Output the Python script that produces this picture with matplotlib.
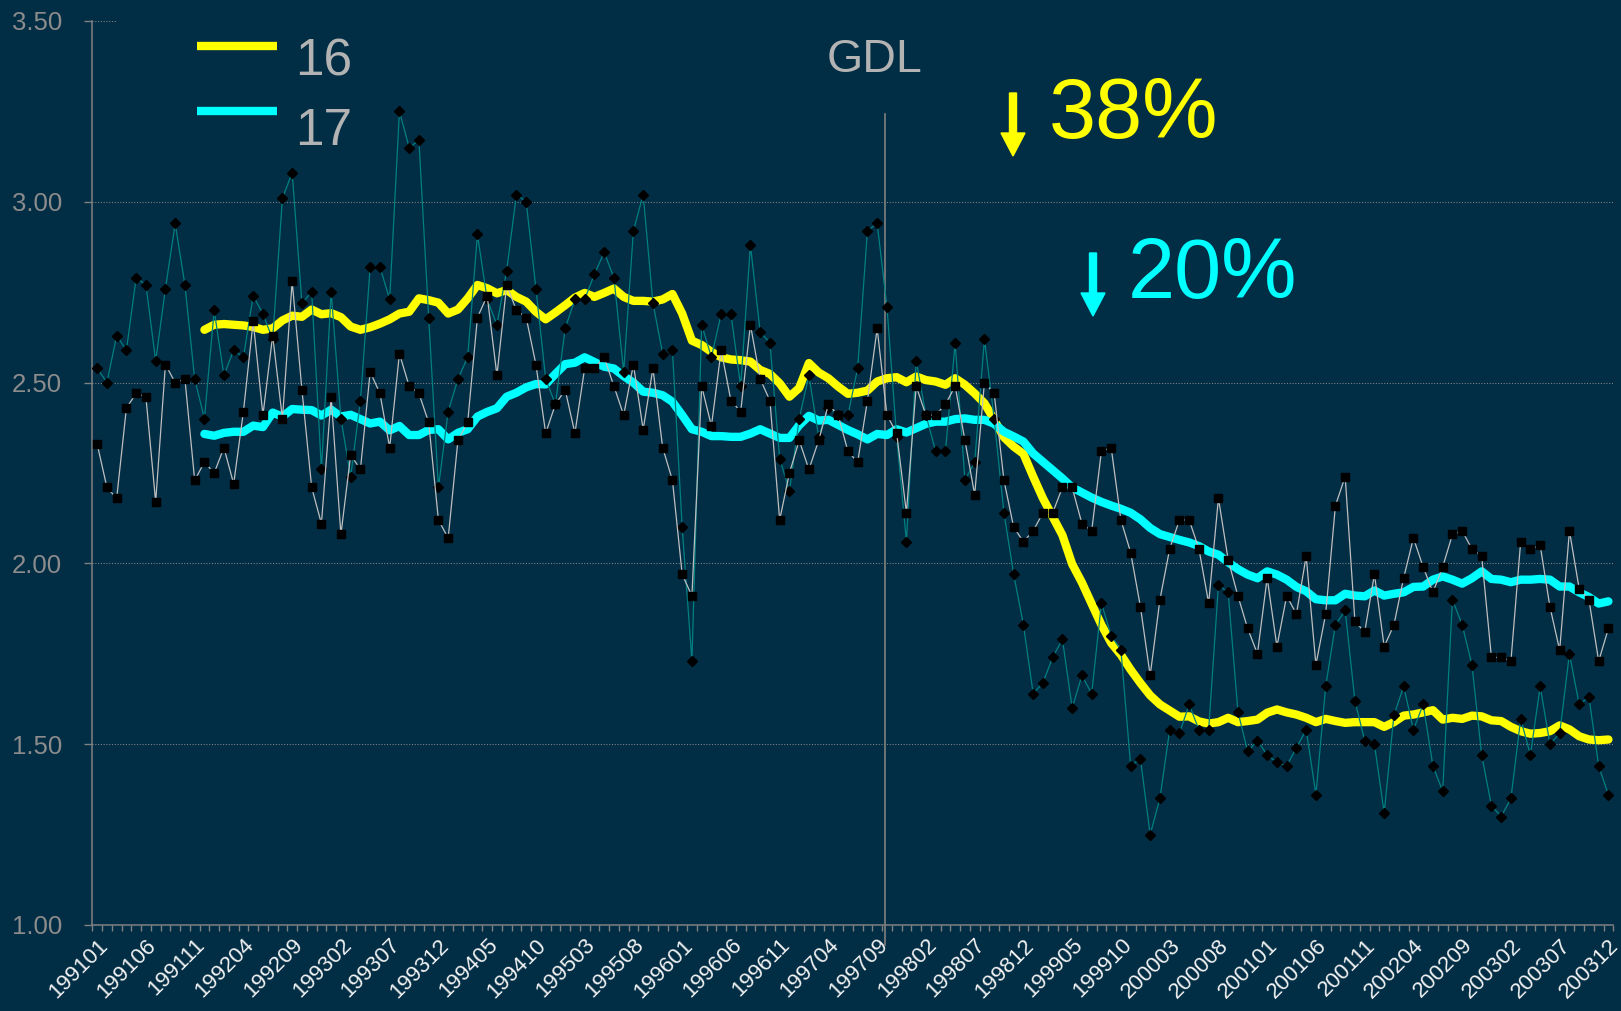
import matplotlib.pyplot as plt
from matplotlib.patches import FancyArrow, Rectangle
from matplotlib.ticker import FormatStrFormatter

plt.rcParams['font.family'] = ['Liberation Sans', 'DejaVu Sans']

# monthly categories 199101 .. 200312
months = [f"{y}{m:02d}" for y in range(1991, 2004) for m in range(1, 13)]

# raw monthly values (thin lines)
raw16 = [2.54, 2.50, 2.63, 2.59, 2.79, 2.77, 2.56, 2.76, 2.94, 2.77,
         2.51, 2.40, 2.70, 2.52, 2.59, 2.57, 2.74, 2.69, 2.62, 3.01,
         3.08, 2.72, 2.75, 2.26, 2.75, 2.40, 2.24, 2.45, 2.82, 2.82,
         2.73, 3.25, 3.15, 3.17, 2.68, 2.21, 2.42, 2.51, 2.57, 2.91,
         2.73, 2.66, 2.81, 3.02, 3.00, 2.76, 2.51, 2.44, 2.65, 2.73,
         2.73, 2.80, 2.86, 2.79, 2.53, 2.92, 3.02, 2.72, 2.58, 2.59,
         2.10, 1.73, 2.66, 2.57, 2.69, 2.69, 2.49, 2.88, 2.64, 2.61,
         2.29, 2.20, 2.40, 2.52, 2.35, 2.43, 2.41, 2.41, 2.54, 2.92,
         2.94, 2.71, 2.35, 2.06, 2.56, 2.41, 2.31, 2.31, 2.61, 2.23,
         2.28, 2.62, 2.40, 2.14, 1.97, 1.83, 1.64, 1.67, 1.74, 1.79,
         1.60, 1.69, 1.64, 1.89, 1.80, 1.76, 1.44, 1.46, 1.25, 1.35,
         1.54, 1.53, 1.61, 1.54, 1.54, 1.94, 1.92, 1.59, 1.48, 1.51,
         1.47, 1.45, 1.44, 1.49, 1.54, 1.36, 1.66, 1.83, 1.87, 1.62,
         1.51, 1.50, 1.31, 1.58, 1.66, 1.54, 1.61, 1.44, 1.37, 1.90,
         1.83, 1.72, 1.47, 1.33, 1.30, 1.35, 1.57, 1.47, 1.66, 1.50,
         1.53, 1.75, 1.61, 1.63, 1.44, 1.36]

raw17 = [2.33, 2.21, 2.18, 2.43, 2.47, 2.46, 2.17, 2.55, 2.50, 2.51,
         2.23, 2.28, 2.25, 2.32, 2.22, 2.42, 2.67, 2.41, 2.63, 2.40,
         2.78, 2.48, 2.21, 2.11, 2.46, 2.08, 2.30, 2.26, 2.53, 2.47,
         2.32, 2.58, 2.49, 2.47, 2.39, 2.12, 2.07, 2.34, 2.39, 2.68,
         2.74, 2.52, 2.77, 2.70, 2.68, 2.55, 2.36, 2.44, 2.48, 2.36,
         2.54, 2.54, 2.57, 2.49, 2.41, 2.55, 2.37, 2.54, 2.32, 2.23,
         1.97, 1.91, 2.49, 2.38, 2.59, 2.45, 2.42, 2.66, 2.51, 2.45,
         2.12, 2.25, 2.34, 2.26, 2.34, 2.44, 2.41, 2.31, 2.28, 2.45,
         2.65, 2.41, 2.36, 2.14, 2.49, 2.41, 2.41, 2.44, 2.49, 2.34,
         2.19, 2.50, 2.47, 2.23, 2.10, 2.06, 2.09, 2.14, 2.14, 2.21,
         2.21, 2.11, 2.09, 2.31, 2.32, 2.12, 2.03, 1.88, 1.69, 1.90,
         2.04, 2.12, 2.12, 2.04, 1.89, 2.18, 2.01, 1.91, 1.82, 1.75,
         1.96, 1.77, 1.91, 1.86, 2.02, 1.72, 1.86, 2.16, 2.24, 1.84,
         1.81, 1.97, 1.77, 1.83, 1.96, 2.07, 1.99, 1.92, 1.99, 2.08,
         2.09, 2.04, 2.02, 1.74, 1.74, 1.73, 2.06, 2.04, 2.05, 1.88,
         1.76, 2.09, 1.93, 1.90, 1.73, 1.82]

# 12-month averages (thick lines), from 199112 on
ma_start = 11
ma16 = [2.646, 2.660, 2.662, 2.660, 2.658, 2.654, 2.646, 2.650, 2.672, 2.685,
        2.682, 2.702, 2.689, 2.692, 2.681, 2.655, 2.646, 2.653, 2.663, 2.675,
        2.691, 2.696, 2.733, 2.728, 2.721, 2.691, 2.702, 2.733, 2.770, 2.761,
        2.747, 2.756, 2.737, 2.724, 2.696, 2.675, 2.694, 2.714, 2.735, 2.748,
        2.737, 2.748, 2.760, 2.737, 2.726, 2.726, 2.724, 2.730, 2.745, 2.691,
        2.616, 2.604, 2.585, 2.570, 2.564, 2.562, 2.558, 2.535, 2.524, 2.498,
        2.461, 2.485, 2.554, 2.528, 2.512, 2.489, 2.469, 2.472, 2.478, 2.503,
        2.512, 2.515, 2.501, 2.517, 2.507, 2.503, 2.494, 2.512, 2.494, 2.470,
        2.443, 2.397, 2.349, 2.323, 2.303, 2.240, 2.180, 2.129, 2.078, 1.998,
        1.947, 1.888, 1.830, 1.780, 1.747, 1.706, 1.669, 1.635, 1.610, 1.593,
        1.576, 1.577, 1.563, 1.557, 1.561, 1.573, 1.561, 1.564, 1.568, 1.587,
        1.596, 1.588, 1.582, 1.573, 1.561, 1.570, 1.564, 1.559, 1.561, 1.561,
        1.561, 1.548, 1.561, 1.579, 1.582, 1.588, 1.594, 1.568, 1.573, 1.570,
        1.579, 1.577, 1.566, 1.564, 1.548, 1.536, 1.529, 1.531, 1.536, 1.552,
        1.541, 1.522, 1.513, 1.511, 1.513]

ma17 = [2.358, 2.353, 2.361, 2.364, 2.364, 2.381, 2.377, 2.417, 2.406, 2.427,
        2.425, 2.424, 2.409, 2.425, 2.406, 2.411, 2.399, 2.387, 2.392, 2.368,
        2.380, 2.355, 2.355, 2.369, 2.371, 2.343, 2.361, 2.371, 2.406, 2.419,
        2.429, 2.461, 2.472, 2.487, 2.496, 2.495, 2.524, 2.551, 2.555, 2.570,
        2.557, 2.544, 2.539, 2.518, 2.500, 2.475, 2.472, 2.465, 2.447, 2.410,
        2.371, 2.364, 2.352, 2.352, 2.350, 2.350, 2.359, 2.371, 2.359, 2.347,
        2.347, 2.382, 2.408, 2.395, 2.397, 2.383, 2.369, 2.357, 2.343, 2.358,
        2.355, 2.371, 2.362, 2.374, 2.386, 2.392, 2.392, 2.399, 2.401, 2.397,
        2.397, 2.386, 2.364, 2.351, 2.337, 2.304, 2.281, 2.258, 2.235, 2.210,
        2.196, 2.182, 2.170, 2.160, 2.151, 2.140, 2.122, 2.098, 2.081, 2.073,
        2.065, 2.058, 2.048, 2.033, 2.024, 2.003, 1.984, 1.969, 1.959, 1.978,
        1.969, 1.955, 1.935, 1.923, 1.901, 1.898, 1.898, 1.916, 1.911, 1.909,
        1.925, 1.911, 1.916, 1.920, 1.935, 1.936, 1.955, 1.964, 1.955, 1.944,
        1.959, 1.978, 1.957, 1.955, 1.948, 1.955, 1.955, 1.957, 1.955, 1.936,
        1.936, 1.920, 1.907, 1.889, 1.895]

gdl_pos = 80.8  # between 199709 and 199710

bg = '#012d45'
grey = '#808080'

fig = plt.figure(figsize=(16.21, 10.11), dpi=100, facecolor=bg)
ax = fig.add_axes([92.3 / 1621, 86 / 1011, 1521 / 1621, 904 / 1011])
ax.set_facecolor(bg)

x = list(range(len(months)))
xm = x[ma_start:]

l16, = ax.plot(xm, ma16, color='#ffff00', lw=6, solid_capstyle='round',
               solid_joinstyle='round', zorder=3)
l17, = ax.plot(xm, ma17, color='#00ffff', lw=6, solid_capstyle='round',
               solid_joinstyle='round', zorder=3)
ax.plot(x, raw16, color='#008080', lw=0.9, marker='D', ms=5.2,
        mfc='black', mec='black', zorder=4)
ax.plot(x, raw17, color='#bfbfbf', lw=0.9, marker='s', ms=5.5,
        mfc='black', mec='black', zorder=5)

ax.axvline(gdl_pos, ymin=-0.022, ymax=0.897, color=grey, lw=1.2,
           clip_on=False, zorder=2)

ax.set_xlim(-0.5, len(months) - 0.5)
ax.set_ylim(1.0, 3.5)

ax.set_xticks(x[::5])
ax.set_xticklabels(months[::5], rotation=45, ha='right', va='top',
                   rotation_mode='anchor', fontsize=16, color='#f2f2f2')
ax.set_xticks([i - 0.5 for i in range(len(months) + 1)], minor=True)
ax.tick_params(axis='x', which='major', length=0, pad=7)
ax.tick_params(axis='x', which='minor', length=4.3, width=1, color=grey,
               direction='out')

ax.set_yticks([1.0, 1.5, 2.0, 2.5, 3.0, 3.5])
ax.yaxis.set_major_formatter(FormatStrFormatter('%.2f'))
ax.tick_params(axis='y', length=5.8, width=1, color=grey, labelsize=18.5,
               labelcolor='#8c8c8c', pad=16)

for s in ['top', 'right']:
    ax.spines[s].set_visible(False)
for s in ['left', 'bottom']:
    ax.spines[s].set_color(grey)
    ax.spines[s].set_linewidth(1.1)

ax.set_axisbelow(True)
ax.yaxis.grid(True, color=grey, linestyle=(0, (1, 1.5)), lw=0.8)
# top gridline hidden behind the legend area
ax.add_patch(Rectangle((0.0162, 0.99), 1.0, 0.02, transform=ax.transAxes,
                       facecolor=bg, edgecolor='none', clip_on=False, zorder=1))

leg = ax.legend(handles=[l16, l17], labels=['16', '17'], loc='upper left',
                bbox_to_anchor=(197 / 1621, 1 - 26 / 1011),
                bbox_transform=fig.transFigure, frameon=False, fontsize=37,
                handlelength=1.556, handletextpad=0.35, labelspacing=0.31,
                borderpad=0, borderaxespad=0)
# labels sit a little below their line samples
for t, dy in zip(leg.get_texts(), [-11, -16.5]):
    t.set_color('#b3b3b3')
    t.set_y(dy)
for h in leg.legend_handles:
    h.set_solid_capstyle('butt')

fig.text(874.5 / 1621, 1 - 71.7 / 1011, 'GDL', fontsize=33.5, color='#b3b3b3',
         ha='center', va='baseline')
fig.text(1134 / 1621, 1 - 138 / 1011, '38%', fontsize=61, color='#ffff00',
         ha='center', va='baseline')
fig.text(1213 / 1621, 1 - 298 / 1011, '20%', fontsize=61, color='#00ffff',
         ha='center', va='baseline')

fig.add_artist(FancyArrow(10.13, (1011 - 93) / 100, 0, -0.63, width=0.07,
                          head_width=0.24, head_length=0.23,
                          length_includes_head=True, color='#ffff00',
                          transform=fig.dpi_scale_trans))
fig.add_artist(FancyArrow(10.93, (1011 - 253) / 100, 0, -0.63, width=0.07,
                          head_width=0.24, head_length=0.23,
                          length_includes_head=True, color='#00ffff',
                          transform=fig.dpi_scale_trans))

fig.savefig('out.png', dpi=100, facecolor=bg)
